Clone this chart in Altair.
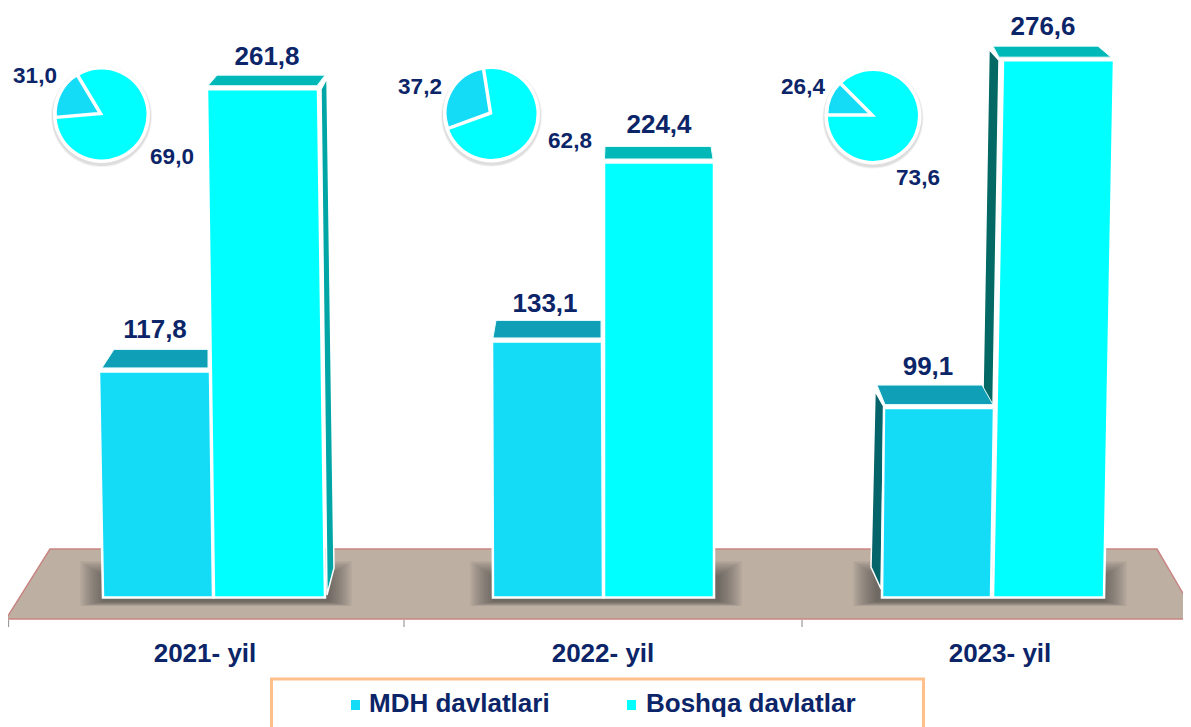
import altair as alt
import pandas as pd

# ---------- chart values ----------
years = ["2021- yil", "2022- yil", "2023- yil"]
mdh_values = [117.8, 133.1, 99.1]
boshqa_values = [261.8, 224.4, 276.6]
mdh_share_labels = ["31,0", "37,2", "26,4"]
boshqa_share_labels = ["69,0", "62,8", "73,6"]
bar_labels_mdh = ["117,8", "133,1", "99,1"]
bar_labels_boshqa = ["261,8", "224,4", "276,6"]
# wedge size as it is drawn in the picture, in degrees, and where it starts
wedge_degrees = [64, 101, 45]
wedge_start = [265, 250, 270]
legend_names = ["MDH davlatlari", "Boshqa davlatlar"]

# ---------- colours / layout ----------
NAVY = "#0B2568"
C_MDH = "#14DCF7"
C_BOSHQA = "#00FFFF"
TOP_MDH = "#0FA0B8"
TOP_BOSHQA = "#00B8B8"
SIDE_RIGHT = "#00A6A6"
SIDE_DARK = "#05636A"
FLOOR = "#BDAFA2"
FLOOR_EDGE = "#C98583"
FONT = "Liberation Sans"
W, H = 1175, 719
PX_PER_UNIT = 1.96
ZERO_PX = 602.3


def vy(px):
    """Picture row -> value units of the y scale."""
    return (ZERO_PX - px) / PX_PER_UNIT


BASE = vy(597.5)
x_scale = alt.Scale(domain=[8, 8 + W], range=[0, W], nice=False, zero=False)
y_scale = alt.Scale(domain=[vy(8 + H), vy(8)], range=[H, 0], nice=False, zero=False)
X = alt.X("x:Q", scale=x_scale, axis=None)
Y = alt.Y("y:Q", scale=y_scale, axis=None)


def poly(pts, fill, stroke="white", sw=1.5):
    df = pd.DataFrame([{"x": p[0], "y": p[1], "i": k} for k, p in enumerate(pts)])
    return (
        alt.Chart(df)
        .mark_line(interpolate="linear-closed", fill=fill, stroke=stroke, strokeWidth=sw, clip=True)
        .encode(x=X, y=Y, order="i:Q")
    )


def text(rows, size, anchor="center"):
    df = pd.DataFrame(rows, columns=["x", "y", "t"])
    return (
        alt.Chart(df)
        .mark_text(font=FONT, fontWeight="bold", fontSize=size, color=NAVY, align=anchor, baseline="alphabetic")
        .encode(x=X, y=Y, text="t:N")
    )


def bar_face(v, tl, tr, bl, br, fill):
    return poly([(tl, v), (tr, v), (br, BASE), (bl, BASE)], fill, sw=2.5)


def top_face(v, front, back, fy, by, fill):
    return poly(
        [(front[0], v + fy / PX_PER_UNIT), (front[1], v + fy / PX_PER_UNIT),
         (back[1], v + by / PX_PER_UNIT), (back[0], v + by / PX_PER_UNIT)],
        fill,
        stroke="#E8FBFB",
        sw=1,
    )


layers = []

# floor
layers.append(
    poly([(6, vy(619)), (50, vy(549)), (1157, vy(549)), (1198, vy(619))], FLOOR, stroke=FLOOR_EDGE, sw=1.5)
)

# floor ticks
tick_df = pd.DataFrame({"x": [8.5, 404, 802], "y": [vy(620)] * 3, "y2": [vy(627)] * 3})
layers.append(
    alt.Chart(tick_df).mark_rule(color="#9A9A9A", strokeWidth=1.2).encode(x=X, y=Y, y2="y2:Q")
)

# soft shadows under the bars
shadow_rows = []
for x0, x1 in [(80, 352), (470, 742), (853, 1127)]:
    for i in range(14):
        shadow_rows.append(
            {"x": x0 + i * 1.8, "x2": x1 - i * 1.8, "y": vy(561 + i * 1.2), "y2": vy(606 - i * 0.35)}
        )
layers.append(
    alt.Chart(pd.DataFrame(shadow_rows))
    .mark_rect(color="#3F352F", opacity=0.055)
    .encode(x=X, x2="x2:Q", y=Y, y2="y2:Q")
)

# 2021
m, b = mdh_values[0], boshqa_values[0]
layers += [
    poly([(321, b), (327, b + 11 / PX_PER_UNIT), (334, vy(568)), (327, vy(595))], SIDE_RIGHT),
    top_face(b, (208, 317), (217, 325), 3.5, 14, TOP_BOSHQA),
    top_face(m, (102, 208), (114, 208), 3.5, 22, TOP_MDH),
    bar_face(m, 99, 210, 103, 213, C_MDH),
    bar_face(b, 207, 318, 214, 325, C_BOSHQA),
]
# 2022
m, b = mdh_values[1], boshqa_values[1]
layers += [
    top_face(b, (604.5, 713), (605, 711), 3.5, 16, TOP_BOSHQA),
    top_face(m, (493, 601), (496, 601), 3.5, 21, TOP_MDH),
    bar_face(m, 492, 602, 493, 603, C_MDH),
    bar_face(b, 604, 714, 604, 714, C_BOSHQA),
]
# 2023
m, b = mdh_values[2], boshqa_values[2]
layers += [
    poly([(989, b + 11 / PX_PER_UNIT), (999, b), (993, vy(406)), (983, vy(393))], "#046964"),
    top_face(b, (999, 1111), (993, 1098), 3, 14, TOP_BOSHQA),
    poly([(875, vy(391)), (884, vy(407)), (881, vy(589)), (871, vy(567))], SIDE_DARK),
    top_face(m, (885, 993), (877, 982), 3.5, 23, TOP_MDH),
    bar_face(m, 884, 994, 882, 991, C_MDH),
    bar_face(b, 1003, 1114, 993, 1104, C_BOSHQA),
]

# pies
pie_centres = [(101.5, 114.5), (491.5, 114), (873, 116)]
pie_rows = [{"x": c[0], "y": vy(c[1])} for c in pie_centres]
shadow_pie = pd.DataFrame([{"x": c[0], "y": vy(c[1] + 2)} for c in pie_centres])
for r, op in [(50.5, 0.08), (49.5, 0.12)]:
    layers.append(
        alt.Chart(shadow_pie).mark_point(filled=True, shape="circle", size=(2 * r) ** 2, color="#555555", opacity=op)
        .encode(x=X, y=Y)
    )
layers.append(
    alt.Chart(pd.DataFrame(pie_rows)).mark_point(filled=True, shape="circle", size=97**2, color="white", opacity=1)
    .encode(x=X, y=Y)
)
layers.append(
    alt.Chart(pd.DataFrame(pie_rows)).mark_point(filled=True, shape="circle", size=90**2, color=C_BOSHQA, opacity=1)
    .encode(x=X, y=Y)
)
DEG = 3.141592653589793 / 180
wedge_df = pd.DataFrame(
    [
        {"x": c[0] - 1, "y": vy(c[1] - 1), "a": s * DEG, "a2": (s + d) * DEG}
        for c, s, d in zip(pie_centres, wedge_start, wedge_degrees)
    ]
)
layers.append(
    alt.Chart(wedge_df)
    .mark_arc(radius=45.5, fill=C_MDH, stroke="white", strokeWidth=3.5)
    .encode(x=X, y=Y, theta=alt.Theta("a:Q", scale=None), theta2="a2:Q")
)

# bar value labels
layers.append(
    text(
        [
            (155, vy(338), bar_labels_mdh[0]),
            (267, vy(65), bar_labels_boshqa[0]),
            (545, vy(312), bar_labels_mdh[1]),
            (659, vy(133), bar_labels_boshqa[1]),
            (928, vy(375), bar_labels_mdh[2]),
            (1043, vy(35), bar_labels_boshqa[2]),
        ],
        26,
    )
)
# pie labels
layers.append(
    text(
        [
            (35, vy(83), mdh_share_labels[0]),
            (172, vy(164), boshqa_share_labels[0]),
            (420, vy(94), mdh_share_labels[1]),
            (570, vy(148), boshqa_share_labels[1]),
            (803, vy(94), mdh_share_labels[2]),
            (918, vy(185), boshqa_share_labels[2]),
        ],
        22.5,
    )
)
# category labels
layers.append(text([(c, vy(662), y) for c, y in zip([205, 603, 1000], years)], 26))

# legend
layers.append(
    alt.Chart(pd.DataFrame([{"x": 271.5, "x2": 923.5, "y": vy(679), "y2": vy(760)}]))
    .mark_rect(fill="white", stroke="#FFC08C", strokeWidth=3, clip=True)
    .encode(x=X, x2="x2:Q", y=Y, y2="y2:Q")
)
legend_sq = pd.DataFrame(
    [
        {"x": 351, "x2": 360, "y": vy(700), "y2": vy(710), "c": C_MDH},
        {"x": 627, "x2": 636, "y": vy(700), "y2": vy(710), "c": C_BOSHQA},
    ]
)
layers.append(
    alt.Chart(legend_sq).mark_rect().encode(x=X, x2="x2:Q", y=Y, y2="y2:Q", color=alt.Color("c:N", scale=None))
)
layers.append(text([(369, vy(712), legend_names[0]), (646, vy(712), legend_names[1])], 26, anchor="left"))

chart = (
    alt.layer(*layers)
    .properties(width=W, height=H, padding=0, autosize=alt.AutoSizeParams(type="none"))
    .configure_view(stroke=None)
)
chart.save("out.html", embed_options={"renderer": "svg", "actions": False})
